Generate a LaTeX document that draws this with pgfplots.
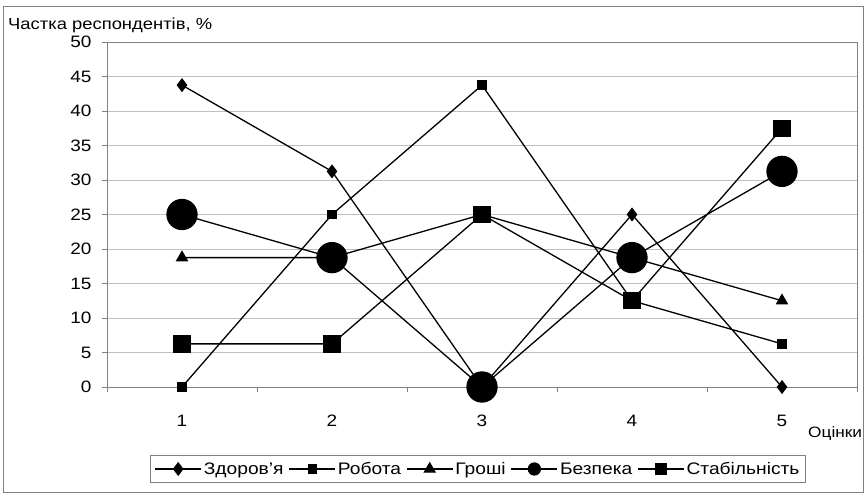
\documentclass[border=0pt]{standalone}
\usepackage{fontspec}
\setmainfont[FakeStretch=1.15]{Liberation Sans}
\usepackage{pgfplots}
\pgfplotsset{compat=1.18}
\definecolor{gridgray}{RGB}{192,192,192}
\definecolor{framegray}{RGB}{128,128,128}
\pgfplotstableread{
x zd rob gr bez stab
1 43.75 0 18.75 25 6.25
2 31.25 25 18.75 18.75 6.25
3 0 43.75 25 0 25
4 25 12.5 18.75 18.75 12.5
5 0 6.25 12.5 31.25 37.5
}\datatable
\begin{document}
\begin{tikzpicture}
\useasboundingbox (0pt,0pt) rectangle (865pt,493pt);
\draw[framegray, line width=0.8pt] (3pt,0.5pt) rectangle (863pt,487pt);
\node[anchor=base west, font=\fontsize{16}{19}\selectfont, inner sep=0pt] at (8pt,463pt) {Частка респондентів, \%};
\node[anchor=base west, font=\fontsize{15}{18}\selectfont, inner sep=0pt] at (808pt,56pt) {Оцінки};
\begin{axis}[
  at={(107pt,106pt)}, anchor=south west,
  scale only axis, width=750pt, height=345pt,
  xmin=0.5, xmax=5.5, ymin=0, ymax=50,
  xtick={1,2,3,4,5},
  minor xtick={0.5,1.5,2.5,3.5,4.5,5.5},
  ytick={0,5,...,50},
  tick pos=left,
  tick align=outside,
  major tick length=5pt, minor tick length=5pt,
  major x tick style={draw=none},
  tick style={framegray, line width=0.8pt},
  ymajorgrids, grid style={gridgray, line width=0.8pt},
  axis line style={framegray, line width=1pt},
  clip=false,
  /pgf/number format/assume math mode=true,
  ticklabel style={font=\fontsize{16.5}{19}\selectfont},
  xticklabel style={anchor=base, yshift=-34pt},
  yticklabel style={xshift=-7pt},
  legend columns=-1,
  legend style={at={(0.4947,-0.2377)}, anchor=center, draw=framegray, line width=0.8pt,
    font=\fontsize{16.7}{20}\selectfont, inner xsep=4pt, inner ysep=5pt,
    /tikz/every even column/.append style={column sep=3pt}},
  legend image code/.code={\draw[#1, mark repeat=2, mark phase=2] plot coordinates {(0pt,0pt) (23pt,0pt) (46pt,0pt)};},
]
\addplot[black, line width=1.3pt, mark=diamond*, mark size=6pt, mark options={solid, fill=black}] table[x=x, y=zd] {\datatable};
\addlegendentry{Здоров’я}
\addplot[black, line width=1.3pt, mark=square*, mark size=4pt, mark options={solid, fill=black}] table[x=x, y=rob] {\datatable};
\addlegendentry{Робота}
\addplot[black, line width=1.3pt, mark=triangle*, mark size=6pt, mark options={solid, fill=black}] table[x=x, y=gr] {\datatable};
\addlegendentry{Гроші}
\addplot[black, line width=1.3pt, mark=*, mark size=15pt, mark options={solid, fill=black},
  legend image code/.code={\draw[black, line width=1.3pt, mark=*, mark size=6pt, mark options={solid, fill=black}, mark repeat=2, mark phase=2] plot coordinates {(0pt,0pt) (23pt,0pt) (46pt,0pt)};}] table[x=x, y=bez] {\datatable};
\addlegendentry{Безпека}
\addplot[black, line width=1.3pt, mark=square*, mark size=8pt, mark options={solid, fill=black},
  legend image code/.code={\draw[black, line width=1.3pt, mark=square*, mark size=5.5pt, mark options={solid, fill=black}, mark repeat=2, mark phase=2] plot coordinates {(0pt,0pt) (23pt,0pt) (46pt,0pt)};}] table[x=x, y=stab] {\datatable};
\addlegendentry{Стабільність}
\end{axis}
\end{tikzpicture}
\end{document}
